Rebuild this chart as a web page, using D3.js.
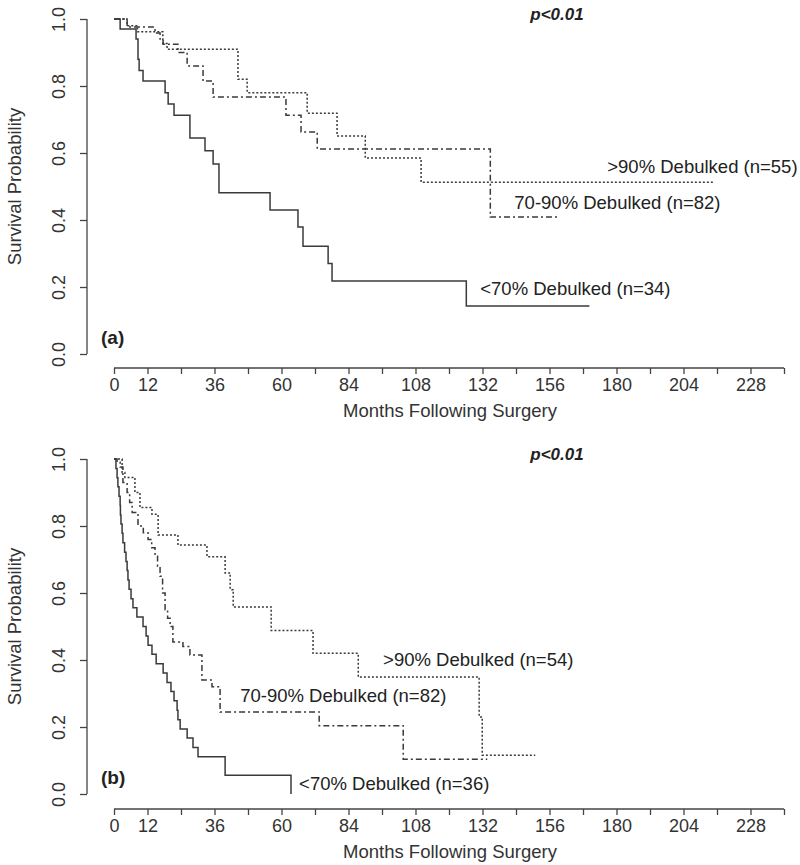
<!DOCTYPE html>
<html>
<head>
<meta charset="utf-8">
<script src="https://cdn.jsdelivr.net/npm/d3@7"></script>
<style>
  body { margin: 0; background: #fff; }
  svg text { font-family: "Liberation Sans", Arial, sans-serif; fill: #222; }
</style>
</head>
<body>
<svg id="chart" width="800" height="865"></svg>
<script>
// x axis ticks (months) and which of them get a label
var monthTicks = d3.range(0, 241, 12)
var monthLabels = [0, 12, 36, 60, 84, 108, 132, 156, 180, 204, 228]
var probTicks = [0, 0.2, 0.4, 0.6, 0.8, 1.0]

// panel (a) curves: [month, survival]
var aLow = [[0,1],[2.2,0.970],[7.9,0.940],[8.6,0.88],[9,0.846],[10.4,0.815],[18.3,0.78],[19.4,0.746],
  [21.5,0.713],[27.2,0.645],[32.6,0.607],[35.5,0.567],[37.6,0.481],[55.9,0.430],[65.9,0.379],
  [67.7,0.322],[76.7,0.27],[78.1,0.218],[126.2,0.143],[170.3,0.143]]
var aMid = [[0,1],[4.7,0.976],[14.7,0.958],[16.5,0.94],[17.6,0.925],[22.9,0.90],[26.2,0.86],
  [31.9,0.815],[35.5,0.767],[61.6,0.713],[67,0.663],[72.8,0.612],[134.8,0.409],[158.8,0.409]]
var aHigh = [[0,1],[4.7,0.98],[8.4,0.962],[17.5,0.927],[19,0.91],[44.4,0.82],[47.7,0.78],
  [69.2,0.719],[79.9,0.651],[90,0.585],[110,0.513],[214.7,0.513]]

// panel (b) curves
var bLow = [[0,1],[0.7,0.972],[1.1,0.944],[1.4,0.917],[1.8,0.889],[2.2,0.861],[2.3,0.833],[2.5,0.806],
  [2.9,0.778],[3.2,0.750],[3.8,0.722],[4.3,0.694],[4.7,0.667],[5.0,0.639],[5.4,0.611],[6.1,0.583],
  [6.8,0.556],[8.2,0.528],[10.4,0.500],[11.5,0.472],[12.2,0.444],[13.6,0.417],[15.1,0.389],
  [17.6,0.361],[19,0.333],[20.4,0.306],[21.5,0.278],[22.6,0.250],[22.9,0.222],[23.7,0.194],
  [26.2,0.167],[28.3,0.139],[30.1,0.111],[39.8,0.056],[63.4,0],[63.4,0]]
var bMid = [[0,1],[1.1,0.99],[2.2,0.976],[3.2,0.93],[4.7,0.90],[5.6,0.87],[6.5,0.84],[8.6,0.80],
  [10.5,0.78],[12.2,0.76],[13.5,0.735],[14.7,0.71],[15.6,0.68],[16.5,0.65],[17.4,0.60],[18.3,0.55],
  [19.2,0.525],[20.1,0.50],[21.1,0.454],[24.7,0.44],[27.2,0.415],[31.5,0.34],[35.1,0.32],
  [38,0.245],[73.5,0.204],[103.6,0.104],[133.7,0.104]]
var bHigh = [[0,1],[2.9,0.96],[3.9,0.945],[7.5,0.90],[9.3,0.855],[13.6,0.835],[15.8,0.773],
  [22.9,0.743],[33.3,0.708],[39.8,0.66],[41.6,0.61],[42.7,0.558],[56.3,0.488],[71.3,0.42],
  [87.5,0.349],[130.8,0.23],[131.9,0.116],[150.9,0.116]]

var panels = [
  {top: 19, bottom: 354, axisY: 368, tag: "(a)",
   curves: [{d: aLow, dash: null}, {d: aMid, dash: "6,3,2,3"}, {d: aHigh, dash: "2,2"}],
   labels: [{t: ">90% Debulked (n=55)", m: 176.7, p: 0.561},
            {t: "70-90% Debulked (n=82)", m: 143.4, p: 0.451},
            {t: "<70% Debulked (n=34)", m: 131.2, p: 0.194}]},
  {top: 459, bottom: 794, axisY: 809, tag: "(b)",
   curves: [{d: bLow, dash: null}, {d: bMid, dash: "6,3,2,3"}, {d: bHigh, dash: "2,2"}],
   labels: [{t: ">90% Debulked (n=54)", m: 96.4, p: 0.40},
            {t: "70-90% Debulked (n=82)", m: 45.2, p: 0.293},
            {t: "<70% Debulked (n=36)", m: 66.3, p: 0.03}]}
]

var svg = d3.select("#chart")
var x = d3.scaleLinear().domain([0, 240]).range([114, 784])

panels.forEach(function(pn) {
  var y = d3.scaleLinear().domain([0, 1]).range([pn.bottom, pn.top])
  var g = svg.append("g")

  // y axis
  var yAxis = g.append("g")
    .attr("transform", "translate(87,0)")
    .call(d3.axisLeft(y).tickValues(probTicks).tickFormat(d3.format(".1f")).tickSize(7))
  yAxis.select(".domain").attr("stroke", "#444").attr("stroke-width", 1.3).attr("d", "M0," + pn.bottom + "V" + pn.top)
  yAxis.selectAll(".tick line").attr("stroke", "#444").attr("stroke-width", 1.3)
  yAxis.selectAll(".tick text")
    .attr("x", 0).attr("y", 0).attr("dy", "0.35em")
    .attr("transform", "translate(-28,0) rotate(-90)")
    .attr("text-anchor", "middle")
    .style("font-size", "18px").style("fill", "#333")

  // x axis
  var xAxis = g.append("g")
    .attr("transform", "translate(0," + pn.axisY + ")")
    .call(d3.axisBottom(x).tickValues(monthTicks)
      .tickFormat(function(d) { return monthLabels.indexOf(d) >= 0 ? d : "" })
      .tickSize(6).tickPadding(4))
  xAxis.select(".domain").attr("stroke", "#444").attr("stroke-width", 1.3).attr("d", "M" + x(0) + ",0H" + x(240))
  xAxis.selectAll(".tick line").attr("stroke", "#444").attr("stroke-width", 1.3)
  xAxis.selectAll(".tick text").style("font-size", "18px").style("fill", "#333")

  g.append("text").attr("x", 450).attr("y", pn.axisY + 49)
    .attr("text-anchor", "middle").style("font-size", "18.5px").style("fill", "#333")
    .text("Months Following Surgery")

  g.append("text")
    .attr("transform", "translate(21," + (pn.top + pn.bottom) / 2 + ") rotate(-90)")
    .attr("text-anchor", "middle").style("font-size", "18.5px").style("fill", "#333")
    .text("Survival Probability")

  g.append("text").attr("x", 557).attr("y", pn.top + 1)
    .attr("text-anchor", "middle").style("font-size", "17px")
    .style("font-weight", "bold").style("font-style", "italic")
    .text("p<0.01")

  g.append("text").attr("x", 101).attr("y", pn.bottom - 10)
    .style("font-size", "19px").style("font-weight", "bold")
    .text(pn.tag)

  var line = d3.line()
    .x(function(d) { return x(d[0]) })
    .y(function(d) { return y(d[1]) })
    .curve(d3.curveStepAfter)

  pn.curves.forEach(function(c) {
    g.append("path")
      .attr("d", line(c.d))
      .attr("fill", "none")
      .attr("stroke", "#3a3a3a")
      .attr("stroke-width", 1.5)
      .attr("stroke-dasharray", c.dash)
  })

  pn.labels.forEach(function(l) {
    g.append("text").attr("x", x(l.m)).attr("y", y(l.p))
      .attr("dy", "0.35em").style("font-size", "18.5px").style("fill", "#222")
      .text(l.t)
  })
})
</script>
</body>
</html>
